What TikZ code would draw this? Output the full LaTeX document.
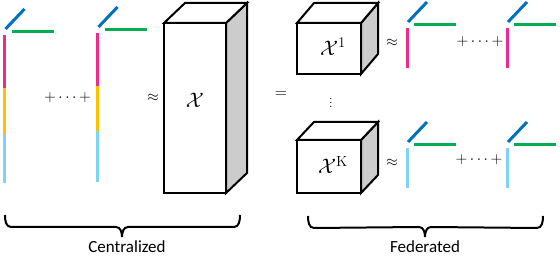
\documentclass[tikz,border=0pt]{standalone}
\usepackage{fix-cm}
\usepackage[no-math]{fontspec}
\setmainfont{Carlito}
\usetikzlibrary{calc}
\definecolor{pinkc}{RGB}{236,44,136}
\definecolor{yellowc}{RGB}{255,192,0}
\definecolor{lbluec}{RGB}{128,210,246}
\definecolor{dbluec}{RGB}{0,112,192}
\definecolor{greenc}{RGB}{0,176,80}
\definecolor{sidegray}{RGB}{204,204,204}
\newcommand\fanlines[1]{%
  \draw[diagbar] ($(#1)+(1,-6)$) -- ($(#1)+(20,-26)$);
  \draw[greenbar] ($(#1)+(7,-3)$) -- ($(#1)+(49,-3)$);}
\newcommand\cubefaces[3]{% node, dx, dy
  \draw[sideface] (#1.north east) -- ++(#2,-#3) -- ([shift={(#2,-#3)}]#1.south east) -- (#1.south east) -- cycle;
  \draw[topface] (#1.north west) -- ++(#2,-#3) -- ([shift={(#2,-#3)}]#1.north east) -- (#1.north east) -- cycle;}
\newcommand\bracedraw[3]{% left, right, tip
  \draw[bracel] (#1) to[out=-90,in=180] ($(#1)+(6,12)$) -- ($(#3)+(-6,-10)$) to[out=0,in=90] (#3)
    to[out=90,in=180] ($(#3)+(6,-10)$) -- ($(#2)+(-6,12)$) to[out=0,in=-90] (#2);}
\begin{document}
\begin{tikzpicture}[x=1pt,y=-1pt,
  face/.style={draw=black,line width=2pt,fill=white,inner sep=0pt,outer sep=0pt,line join=miter},
  sideface/.style={draw=black,line width=2pt,fill=sidegray,line join=miter},
  topface/.style={draw=black,line width=2pt,fill=white,line join=miter},
  diagbar/.style={draw=dbluec,line width=3pt},
  greenbar/.style={draw=greenc,line width=3pt},
  vbar/.style={line width=3pt},
  op/.style={font=\fontsize{15.5}{18}\selectfont,inner sep=0pt},
  apx/.style={font=\fontsize{15}{17}\selectfont,inner sep=0pt},
  xlab/.style={font=\fontsize{21}{25}\selectfont,inner sep=0pt},
  lbl/.style={font=\fontsize{17}{20}\selectfont,inner sep=0pt},
  bracel/.style={draw=black,line width=2pt}]
\useasboundingbox (0,0) rectangle (560,256);

% ---------- centralized ----------
\coordinate (c1) at (4.5,35);
\coordinate (c2) at (97.5,33);
\draw[vbar,pinkc] (c1) -- ++(0,53);
\draw[vbar,yellowc] ($(c1)+(0,53)$) -- ++(0,46);
\draw[vbar,lbluec] ($(c1)+(0,99)$) -- ++(0,49);
\fanlines{c1}
\draw[vbar,pinkc] (c2) -- ++(0,53);
\draw[vbar,yellowc] ($(c2)+(0,53)$) -- ++(0,45);
\draw[vbar,lbluec] ($(c2)+(0,98)$) -- ++(0,51);
\fanlines{c2}

\node[op] (pc) at (67.5,98) {$+\cdots+$};
\node[apx] (ac) at (153,98) {$\approx$};

\node[face,minimum width=62pt,minimum height=170pt] (X) at (195,108) {};
\cubefaces{X}{21}{20}
\node[xlab] (Xl) at (195,100) {$\mathcal{X}$};

\node[font=\fontsize{16}{18}\selectfont,inner sep=0pt] (eq) at (281,95) {$=$};

% ---------- federated ----------
\node[face,minimum width=64pt,minimum height=51pt] (X1) at (329,48.5) {};
\cubefaces{X1}{17}{20}
\node[xlab] (X1l) at (333,47) {$\mathcal{X}^{1}$};

\node[font=\fontsize{10}{12}\selectfont,inner sep=0pt] (vd) at (331,100) {$\vdots$};

\node[face,minimum width=64pt,minimum height=53pt] (XK) at (329,166.5) {};
\cubefaces{XK}{17}{18}
\node[xlab] (XKl) at (333,165) {$\mathcal{X}^{\mathrm{K}}$};

\node[apx] (a1) at (392,43) {$\approx$};
\node[apx] (aK) at (392,163) {$\approx$};

\coordinate (f1) at (407,28);
\coordinate (f2) at (507,28);
\coordinate (g1) at (407,148);
\coordinate (g2) at (507,148);
\draw[vbar,pinkc] (f1) -- ++(0,40);
\draw[vbar,pinkc] (f2) -- ++(0,40);
\draw[vbar,lbluec] (g1) -- ++(0,40);
\draw[vbar,lbluec] (g2) -- ++(0,40);
\fanlines{f1}
\fanlines{f2}
\fanlines{g1}
\fanlines{g2}

\node[op] (pf1) at (480,42) {$+\cdots+$};
\node[op] (pfK) at (479,160) {$+\cdots+$};

% ---------- braces ----------
\coordinate (cbL) at (5,215);
\coordinate (cbR) at (240,215);
\coordinate (cbT) at (122,237);
\bracedraw{cbL}{cbR}{cbT}
\node[lbl] (cen) at (127,246.5) {Centralized};

\coordinate (fbL) at (308,216);
\coordinate (fbR) at (543,216);
\coordinate (fbT) at (425,237);
\bracedraw{fbL}{fbR}{fbT}
\node[lbl] (fed) at (425,246.5) {Federated};
\end{tikzpicture}
\end{document}
